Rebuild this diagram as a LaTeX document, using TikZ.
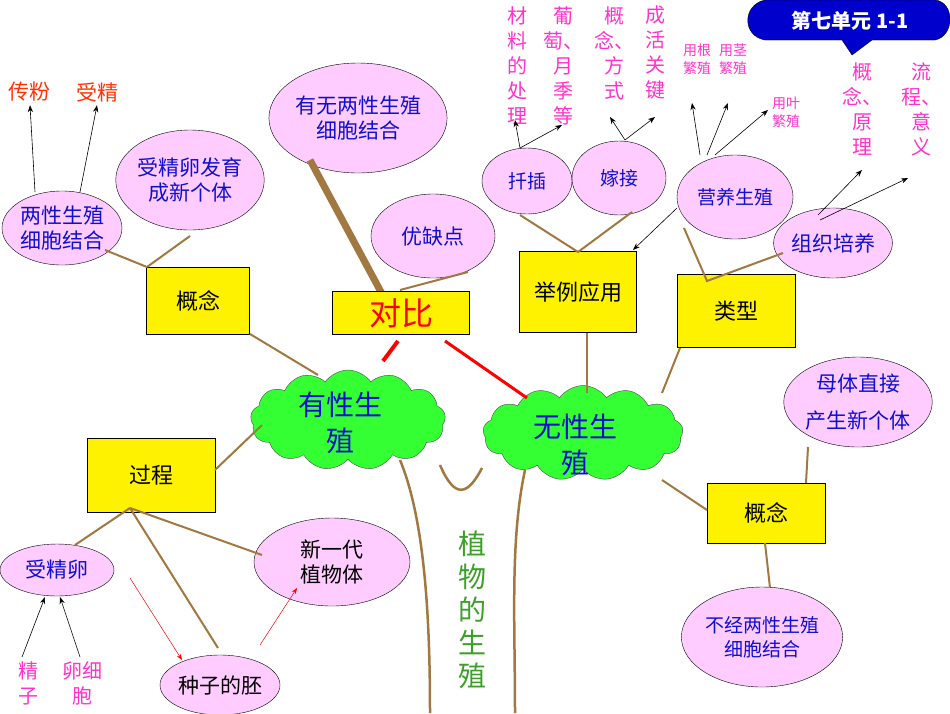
\documentclass[tikz,border=0pt]{standalone}
\usepackage{fontspec}
\setmainfont{Noto Sans CJK SC}
\usetikzlibrary{shapes.symbols,shapes.geometric,arrows.meta}
\definecolor{pk}{HTML}{FFCCFF}
\definecolor{bl}{HTML}{1010CC}
\definecolor{mg}{HTML}{FF33CC}
\definecolor{br}{HTML}{A07840}
\definecolor{gr}{HTML}{33FF33}
\definecolor{org}{HTML}{FF3300}
\definecolor{cb}{HTML}{0000CC}
\begin{document}
\begin{tikzpicture}[x=1pt,y=-1pt,
 ell/.style={ellipse,draw=black,fill=pk,text=bl,inner sep=0pt,font=\fontsize{21}{25}\selectfont,align=center},
 ybox/.style={draw=black,fill=yellow,inner sep=0pt,font=\fontsize{22}{26}\selectfont},
 cl/.style={cloud,cloud puffs=13,cloud puff arc=110,draw=black!70,fill=gr,text=bl,aspect=2,inner sep=0pt},
 mt/.style={text=mg,font=\fontsize{20}{25}\selectfont,align=center,inner sep=0pt},
 st/.style={text=mg,font=\fontsize{14}{18}\selectfont,align=center,inner sep=0pt},
 bline/.style={draw=br,line width=2.5pt},
 arr/.style={-{Stealth[length=7pt]},black,line width=0.6pt},
 rarr/.style={-{Stealth[length=6pt]},red,line width=0.5pt}]
\useasboundingbox (0,0) rectangle (950,713);
\fill[white] (0,0) rectangle (950,713);
% trunk
\draw[bline] (400,460) .. controls (425,520) and (430,620) .. (430,713);
\draw[bline] (525,470) .. controls (510,540) and (515,620) .. (515,713);
\draw[bline] (440,465) .. controls (455,500) and (468,495) .. (482,468);
% clouds
\node[cl,minimum width=195pt,minimum height=100pt] (sx) at (348,420) {};
\node[text=bl,font=\fontsize{28}{36}\selectfont,align=center] at (340,423) {有性生\\殖};
\node[cl,minimum width=200pt,minimum height=95pt] (wx) at (583,433) {};
\node[text=bl,font=\fontsize{28}{36}\selectfont,align=center] at (575,445) {无性生\\殖};
\node[text={rgb,255:red,60;green,160;blue,40},font=\fontsize{28}{33}\selectfont,align=center] (zw) at (472,610) {植\\物\\的\\生\\殖};
% left concept
\node[ybox,minimum width=103pt,minimum height=67pt] (gn1) at (198,301) {概念};
\node[ell,minimum width=120pt,minimum height=74pt] (lx) at (62,228) {两性生殖\\细胞结合};
\node[ell,minimum width=140pt,minimum height=100pt] (sj) at (190,180) {受精卵发育\\成新个体};
\coordinate (g1) at (147,267);
\draw[bline,line width=2pt] (g1) -- (105,250) (g1) -- (190,236);
\draw[bline,line width=2pt] (250,334) -- (318,375);
\node[text=org,font=\fontsize{21}{24}\selectfont] (cf) at (30,92) {传粉};
\node[text=org,font=\fontsize{21}{24}\selectfont] (sjj) at (97,92) {受精};
\draw[arr] (35,192) -- (cf.south);
\draw[arr] (80,192) -- (sjj.south);
% duibi
\node[ell,minimum width=170pt,minimum height=110pt] (yw) at (358,118) {有无两性生殖\\细胞结合};
\draw[draw=br,line width=7pt] (310,160) -- (395,318);
\node[ell,minimum width=124pt,minimum height=84pt] (yq) at (433,236) {优缺点};
\draw[bline,line width=2pt] (400,290) -- (468,272);
\node[ybox,minimum width=137pt,minimum height=43pt,text=red,font=\fontsize{32}{34}\selectfont] (db) at (401,313) {对比};
\draw[red,line width=4pt] (398,341) -- (383,361);
\draw[red,line width=3pt] (445,341) -- (527,398);
% process
\node[ybox,minimum width=128pt,minimum height=74pt] (gc) at (151,475) {过程};
\draw[bline,line width=2pt] (215,470) -- (262,425);
\node[ell,minimum width=114pt,minimum height=52pt] (sjl) at (57,570) {受精卵};
\node[ell,minimum width=156pt,minimum height=88pt,text=black] (xyd) at (332,562) {新一代\\植物体};
\node[ell,minimum width=120pt,minimum height=60pt,text=black] (zz) at (220,685) {种子的胚};
\coordinate (g2) at (130,508);
\draw[bline,line width=2pt] (g2) -- (75,545) (g2) -- (262,555) (g2) -- (218,648);
\draw[rarr] (130,578) -- (182,660);
\draw[rarr] (260,645) -- (297,588);
\node[mt] (jz) at (28,683) {精\\子};
\node[mt] (lxb) at (82,683) {卵细\\胞};
\draw[arr] (22,657) -- (45,597);
\draw[arr] (80,657) -- (60,597);
% examples
\node[ell,minimum width=90pt,minimum height=66pt,font=\fontsize{19}{23}\selectfont] (cc) at (527,181) {扦插};
\node[ell,minimum width=94pt,minimum height=74pt,font=\fontsize{19}{23}\selectfont] (jj) at (619,178) {嫁接};
\node[ell,minimum width=116pt,minimum height=84pt,font=\fontsize{19}{23}\selectfont] (yy) at (735,197) {营养生殖};
\node[ell,minimum width=92pt,minimum height=70pt] (zy) at (833,243) {组织培养};
\node[mt,anchor=north] at (517,6) {材\\料\\的\\处\\理};
\node[mt,anchor=north] at (563,6) {葡\\萄、\\月\\季\\等};
\node[mt,anchor=north] at (614,6) {概\\念、\\方\\式};
\node[mt,anchor=north] at (655,6) {成\\活\\关\\键};
\node[st] at (697,59) {用根\\繁殖};
\node[st] at (733,59) {用茎\\繁殖};
\node[st] at (786,112) {用叶\\繁殖};
\node[mt,anchor=north] at (862,62) {概\\念、\\原\\理};
\node[mt,anchor=north] at (921,62) {流\\程、\\意\\义};
\draw[arr] (520,148) -- (515,120);
\draw[arr] (520,148) -- (562,125);
\draw[arr] (625,140) -- (610,117);
\draw[arr] (625,140) -- (655,117);
\draw[arr] (700,155) -- (692,103);
\draw[arr] (707,155) -- (728,103);
\draw[arr] (715,155) -- (768,110);
\draw[arr] (818,215) -- (862,170);
\draw[arr] (820,220) -- (908,178);
\node[ybox,minimum width=117pt,minimum height=81pt] (jl) at (578,292) {举例应用};
\draw[arr] (677,208) -- (633,250);
\draw[bline,line width=2pt] (520,215) -- (578,252) -- (632,212);
\draw[bline,line width=2pt] (587,333) -- (587,393);
\node[ybox,minimum width=118pt,minimum height=73pt] (lx2) at (736,311) {类型};
\draw[bline,line width=2pt] (684,228) -- (707,281) -- (783,253);
\draw[bline,line width=2pt] (680,348) -- (662,393);
% right concept
\node[ell,minimum width=124pt,minimum height=90pt] (mt) at (858,402) {母体直接\\[12pt]产生新个体};
\node[ybox,minimum width=118pt,minimum height=60pt] (gn2) at (766,513) {概念};
\draw[bline,line width=2pt] (662,480) -- (707,510);
\draw[bline,line width=2pt] (806,483) -- (808,447);
\draw[bline,line width=2pt] (765,543) -- (770,588);
\node[ell,minimum width=140pt,minimum height=100pt,text=bl,font=\fontsize{19}{24}\selectfont] (bj) at (762,637) {不经两性生殖\\细胞结合};
% callout
\fill[cb,draw=black] (765,0) .. controls (742,5) and (742,36) .. (765,40) -- (842,40) -- (852,55) -- (872,40) -- (935,40) .. controls (955,36) and (955,2) .. (935,0) -- cycle;
\node[text=white,font=\fontsize{20}{24}\selectfont\bfseries] (tt) at (850,21) {第七单元 1-1};
\end{tikzpicture}
\end{document}
